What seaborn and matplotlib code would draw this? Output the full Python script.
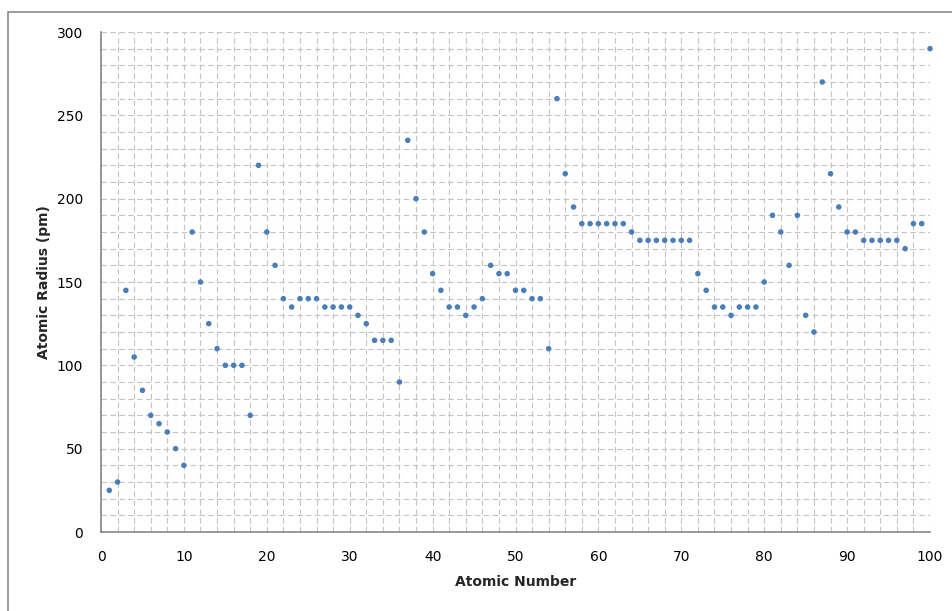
# -*- coding: utf-8 -*-
"""Atomic radius versus atomic number, Excel-like scatter."""
import pandas as pd
import matplotlib.pyplot as plt
from matplotlib.patches import Rectangle
from matplotlib.ticker import MultipleLocator
import seaborn as sns

atomic_number = list(range(1, 101))
atomic_radius = [
    25, 30, 145, 105, 85, 70, 65, 60, 50, 40,
    180, 150, 125, 110, 100, 100, 100, 70, 220, 180,
    160, 140, 135, 140, 140, 140, 135, 135, 135, 135,
    130, 125, 115, 115, 115, 90, 235, 200, 180, 155,
    145, 135, 135, 130, 135, 140, 160, 155, 155, 145,
    145, 140, 140, 110, 260, 215, 195, 185, 185, 185,
    185, 185, 185, 180, 175, 175, 175, 175, 175, 175,
    175, 155, 145, 135, 135, 130, 135, 135, 135, 150,
    190, 180, 160, 190, 130, 120, 270, 215, 195, 180,
    180, 175, 175, 175, 175, 175, 170, 185, 185, 290,
]

data = pd.DataFrame({'Z': atomic_number, 'radius': atomic_radius})

sns.set_style('white')
plt.rcParams['font.family'] = ['DejaVu Sans']

fig = plt.figure(figsize=(9.52, 6.11), dpi=100)
ax = fig.add_axes([101 / 952, 1 - 532 / 611, 829 / 952, 500 / 611])

# chart frame (only top/left edges are inside the picture)
fig.patches.append(Rectangle((8 / 952, -0.1), 1.2, 1 - 12 / 611 + 0.1,
                             transform=fig.transFigure, fill=False,
                             edgecolor='#8c8c8c', linewidth=1.2))

sns.scatterplot(data=data, x='Z', y='radius', ax=ax, color='#4a7ebb',
                s=16, edgecolor='none', zorder=3, clip_on=False)

ax.set_xlim(0, 100)
ax.set_ylim(0, 300)
ax.xaxis.set_major_locator(MultipleLocator(10))
ax.xaxis.set_minor_locator(MultipleLocator(2))
ax.yaxis.set_major_locator(MultipleLocator(50))
ax.yaxis.set_minor_locator(MultipleLocator(10))

ax.grid(which='both', color='#c4c4c4', linestyle=(0, (5, 3)), linewidth=0.8)
ax.set_axisbelow(True)

for side in ['top', 'right']:
    ax.spines[side].set_visible(False)
for side in ['left', 'bottom']:
    ax.spines[side].set_color('#868686')
    ax.spines[side].set_linewidth(1.2)

ax.tick_params(which='major', direction='out', length=5, width=1,
               color='#868686', labelsize=10, labelcolor='#000000', pad=8)
ax.tick_params(which='minor', length=0)

ax.set_xlabel('Atomic Number', fontsize=10, fontweight='bold', labelpad=8)
ax.set_ylabel('Atomic Radius (pm)', fontsize=10, fontweight='bold', labelpad=4)

fig.savefig('out.png', dpi=100)
